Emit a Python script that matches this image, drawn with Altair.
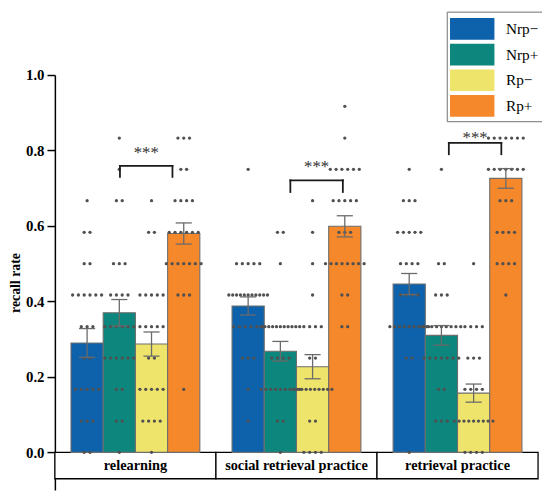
import altair as alt
import pandas as pd

groups = ["relearning", "social retrieval practice", "retrieval practice"]
conditions = ["Nrp−", "Nrp+", "Rp−", "Rp+"]
colors = ["#0e62ab", "#0d867d", "#efe46b", "#f5882b"]

# bar heights (mean recall rate) and standard errors, per group, per condition
mean_relearning = [0.290, 0.370, 0.287, 0.580]
mean_social = [0.388, 0.268, 0.227, 0.599]
mean_retrieval = [0.446, 0.310, 0.157, 0.726]
se_relearning = [0.038, 0.035, 0.032, 0.028]
se_social = [0.024, 0.026, 0.032, 0.028]
se_retrieval = [0.028, 0.026, 0.024, 0.026]

# possible individual recall rates (k/12) and number of participants at each
levels = [0.0, 0.083, 0.167, 0.25, 0.333, 0.417, 0.5, 0.583, 0.667, 0.75, 0.833, 0.917]
counts_relearning = {
    "Nrp−": [2, 3, 5, 2, 3, 6, 2, 2, 1, 0, 0, 0],
    "Nrp+": [1, 2, 2, 6, 6, 4, 3, 0, 2, 1, 1, 0],
    "Rp−": [1, 4, 5, 2, 5, 5, 0, 2, 1, 0, 0, 0],
    "Rp+": [0, 0, 1, 0, 0, 3, 7, 6, 4, 2, 3, 0],
}
counts_social = {
    "Nrp−": [0, 1, 1, 3, 6, 11, 5, 0, 0, 1, 0, 0],
    "Nrp+": [1, 2, 9, 4, 11, 0, 1, 2, 0, 0, 0, 0],
    "Rp−": [4, 2, 10, 2, 4, 1, 1, 1, 1, 0, 0, 0],
    "Rp+": [0, 0, 0, 0, 2, 2, 8, 3, 5, 6, 1, 1],
}
counts_retrieval = {
    "Nrp−": [1, 0, 0, 2, 9, 4, 4, 5, 3, 1, 0, 0],
    "Nrp+": [0, 3, 2, 7, 9, 3, 2, 0, 0, 1, 0, 0],
    "Rp−": [4, 9, 4, 3, 4, 0, 1, 0, 0, 0, 0, 0],
    "Rp+": [0, 0, 0, 0, 0, 1, 4, 4, 3, 7, 7, 0],
}

# significance brackets (Nrp+ vs Rp+), in bar units within each group
bracket_start = [2.02, 2.31, 2.23]
bracket_end = [3.65, 3.94, 3.86]
bracket_top = [0.759, 0.721, 0.820]
bracket_leg = [0.730, 0.690, 0.790]
star_y = [0.800, 0.763, 0.841]
star_text = ["***", "***", "***"]

means = [mean_relearning, mean_social, mean_retrieval]
ses = [se_relearning, se_social, se_retrieval]
counts = [counts_relearning, counts_social, counts_retrieval]

GROUP_W = 5  # each group spans 5 bar-widths on the x scale

bar_rows = []
dot_rows = []
for g, grp in enumerate(groups):
    for c, cond in enumerate(conditions):
        center = GROUP_W * g + 1 + c
        m = means[g][c]
        s = ses[g][c]
        bar_rows.append(dict(group=grp, cond=cond, mean=m, zero=0.0,
                             left=center - 0.5, right=center + 0.5,
                             center=center, lo=m - s, hi=m + s,
                             capl=center - 0.25, capr=center + 0.25))
        for lv, n in zip(levels, counts[g][cond]):
            if n == 0:
                continue
            sp = 0.18 if n == 1 else min(0.18, 1.2 / (n - 1))
            for i in range(n):
                dot_rows.append(dict(x=center + (i - (n - 1) / 2) * sp, y=lv))

bars_df = pd.DataFrame(bar_rows)
dots_df = pd.DataFrame(dot_rows)
boxes_df = pd.DataFrame(dict(
    label=groups,
    x0=[GROUP_W * g for g in range(3)],
    x1=[GROUP_W * g + GROUP_W for g in range(3)],
    xm=[GROUP_W * g + GROUP_W / 2 for g in range(3)],
    yb=[-0.07] * 3, yt=[0.0] * 3, ym=[-0.035] * 3,
))
br_df = pd.DataFrame(dict(
    x0=[GROUP_W * g + bracket_start[g] for g in range(3)],
    x1=[GROUP_W * g + bracket_end[g] for g in range(3)],
    top=bracket_top, leg=bracket_leg, sy=star_y, stars=star_text,
))
br_df["xm"] = (br_df["x0"] + br_df["x1"]) / 2

SERIF = "Liberation Serif"
xs = alt.Scale(domain=[0, 15], nice=False, zero=False)
ys = alt.Scale(domain=[-0.1, 1.0], nice=False, zero=False)
yaxis = alt.Axis(values=[0, 0.2, 0.4, 0.6, 0.8, 1.0], format=".1f",
                 title="recall rate", grid=False,
                 domainColor="black", domainWidth=1.5,
                 tickColor="black", tickWidth=1.5, tickSize=8,
                 labelFont=SERIF, labelFontSize=15, labelFontWeight="bold",
                 labelColor="black", labelPadding=3,
                 titleFont=SERIF, titleFontSize=14, titleFontWeight="bold",
                 titleColor="black", titlePadding=3)


def X(f):
    return alt.X(f, type="quantitative", scale=xs, axis=None)


def Y(f):
    return alt.Y(f, type="quantitative", scale=ys, axis=yaxis)


boxes = alt.Chart(boxes_df).mark_rect(fill="white", stroke="black", strokeWidth=1.3).encode(
    x=X("x0"), x2=alt.X2("x1"), y=Y("yb"), y2=alt.Y2("yt"))
box_labels = alt.Chart(boxes_df).mark_text(font=SERIF, fontSize=14.5, fontWeight="bold",
                                           color="black", baseline="middle").encode(
    x=X("xm"), y=Y("ym"), text="label:N")

bars = alt.Chart(bars_df).mark_bar(stroke="#6e6e6e", strokeWidth=1.1).encode(
    x=X("left"), x2=alt.X2("right"), y=Y("mean"), y2=alt.Y2("zero"),
    color=alt.Color("cond:N", scale=alt.Scale(domain=conditions, range=colors),
                    legend=alt.Legend(title=None, orient="none", legendX=397, legendY=-64.2,
                                      symbolType="M-1.014,-0.786H2.2V0.786H-1.014Z",
                                      symbolSize=784, symbolStrokeWidth=0,
                                      labelFont=SERIF, labelFontSize=15.5, labelColor="black",
                                      labelOffset=28.5, padding=3.5, rowPadding=0,
                                      strokeColor="#707070", fillColor="white")))

dots = alt.Chart(dots_df).mark_circle(size=11, color="#505050", opacity=1).encode(
    x=X("x"), y=Y("y"))

err = alt.Chart(bars_df).mark_rule(color="#6a6a6a", strokeWidth=1.3).encode(
    x=X("center"), y=Y("lo"), y2=alt.Y2("hi"))
cap_lo = alt.Chart(bars_df).mark_rule(color="#6a6a6a", strokeWidth=1.3).encode(
    x=X("capl"), x2=alt.X2("capr"), y=Y("lo"))
cap_hi = alt.Chart(bars_df).mark_rule(color="#6a6a6a", strokeWidth=1.3).encode(
    x=X("capl"), x2=alt.X2("capr"), y=Y("hi"))

br_h = alt.Chart(br_df).mark_rule(color="#1a1a1a", strokeWidth=1.8, strokeCap="square").encode(
    x=X("x0"), x2=alt.X2("x1"), y=Y("top"))
br_l = alt.Chart(br_df).mark_rule(color="#1a1a1a", strokeWidth=1.8, strokeCap="square").encode(
    x=X("x0"), y=Y("leg"), y2=alt.Y2("top"))
br_r = alt.Chart(br_df).mark_rule(color="#1a1a1a", strokeWidth=1.8, strokeCap="square").encode(
    x=X("x1"), y=Y("leg"), y2=alt.Y2("top"))
stars = alt.Chart(br_df).mark_text(font=SERIF, fontSize=17, color="#333333",
                                   baseline="alphabetic", dy=8).encode(
    x=X("xm"), y=Y("sy"), text="stars:N")

chart = alt.layer(boxes, box_labels, bars, dots, err, cap_lo, cap_hi,
                  br_h, br_l, br_r, stars).properties(
    width=489.5, height=420.5,
    padding={"left": 47.5, "top": 64.7, "right": 4, "bottom": 4},
    autosize=alt.AutoSizeParams(type="none"),
    background="white",
).configure_view(strokeWidth=0)

chart.save("out.html", embed_options={"renderer": "svg", "actions": False})
